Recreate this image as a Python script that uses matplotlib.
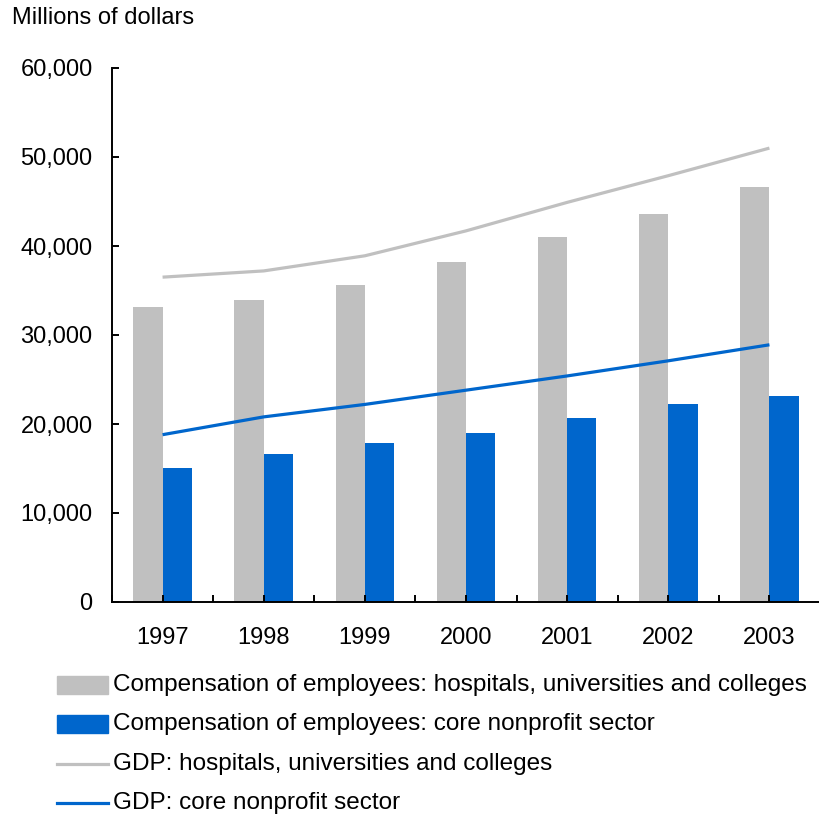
import matplotlib.pyplot as plt
from matplotlib.patches import Rectangle
from matplotlib.lines import Line2D
from matplotlib.ticker import FuncFormatter
import numpy as np

plt.rcParams['font.family'] = ['Liberation Sans', 'DejaVu Sans']

years = ['1997', '1998', '1999', '2000', '2001', '2002', '2003']
comp_hosp = [33200, 33900, 35600, 38200, 41000, 43600, 46600]
comp_core = [15100, 16600, 17900, 19000, 20700, 22200, 23200]
gdp_hosp = [36500, 37200, 38900, 41700, 44900, 47900, 51000]
gdp_core = [18800, 20800, 22200, 23800, 25400, 27100, 28900]

legend_labels = ['Compensation of employees: hospitals, universities and colleges',
                 'Compensation of employees: core nonprofit sector',
                 'GDP: hospitals, universities and colleges',
                 'GDP: core nonprofit sector']

grey = '#c0c0c0'
blue = '#0066cc'
fs = 17

fig = plt.figure(figsize=(8.2, 8.16), dpi=100)
ax = fig.add_axes([112 / 820, 214 / 816, 708 / 820, 534 / 816])

x = np.arange(len(years))
w = 0.29
ax.bar(x - w / 2, comp_hosp, w, color=grey)
ax.bar(x + w / 2, comp_core, w, color=blue)
ax.plot(x, gdp_hosp, color=grey, lw=2.3, solid_capstyle='butt')
ax.plot(x, gdp_core, color=blue, lw=2.3, solid_capstyle='butt')

ax.set_xlim(-0.477, 6.42)
ax.set_ylim(0, 60000)
ax.set_yticks(range(0, 60001, 10000))
ax.yaxis.set_major_formatter(FuncFormatter(lambda v, p: '{:,.0f}'.format(v)))
ax.set_xticks(x)
ax.set_xticklabels(years)
ax.set_xticks(np.arange(-0.5, 7, 1), minor=True)

for s in ['top', 'right']:
    ax.spines[s].set_visible(False)
for s in ['left', 'bottom']:
    ax.spines[s].set_linewidth(1.4)
ax.tick_params(axis='both', which='both', direction='in', length=5, width=1.4,
               labelsize=fs, colors='black')
ax.tick_params(axis='y', pad=14)
ax.tick_params(axis='x', pad=18)

fig.text(12 / 820, 1 - 18 / 816, 'Millions of dollars', fontsize=fs, va='center')

# legend drawn below the plot area
rows = [685, 724, 764, 803]
for i, (lab, y) in enumerate(zip(legend_labels, rows)):
    yf = 1 - y / 816
    if i < 2:
        fig.add_artist(Rectangle((57 / 820, yf - 9 / 816), 51 / 820, 18 / 816,
                                 color=grey if i == 0 else blue, transform=fig.transFigure))
    else:
        fig.add_artist(Line2D([57 / 820, 108 / 820], [yf, yf], lw=2.3,
                              color=grey if i == 2 else blue, transform=fig.transFigure))
    fig.text(113 / 820, yf, lab, fontsize=17.5, va='center')

plt.savefig('out.png', dpi=100)
